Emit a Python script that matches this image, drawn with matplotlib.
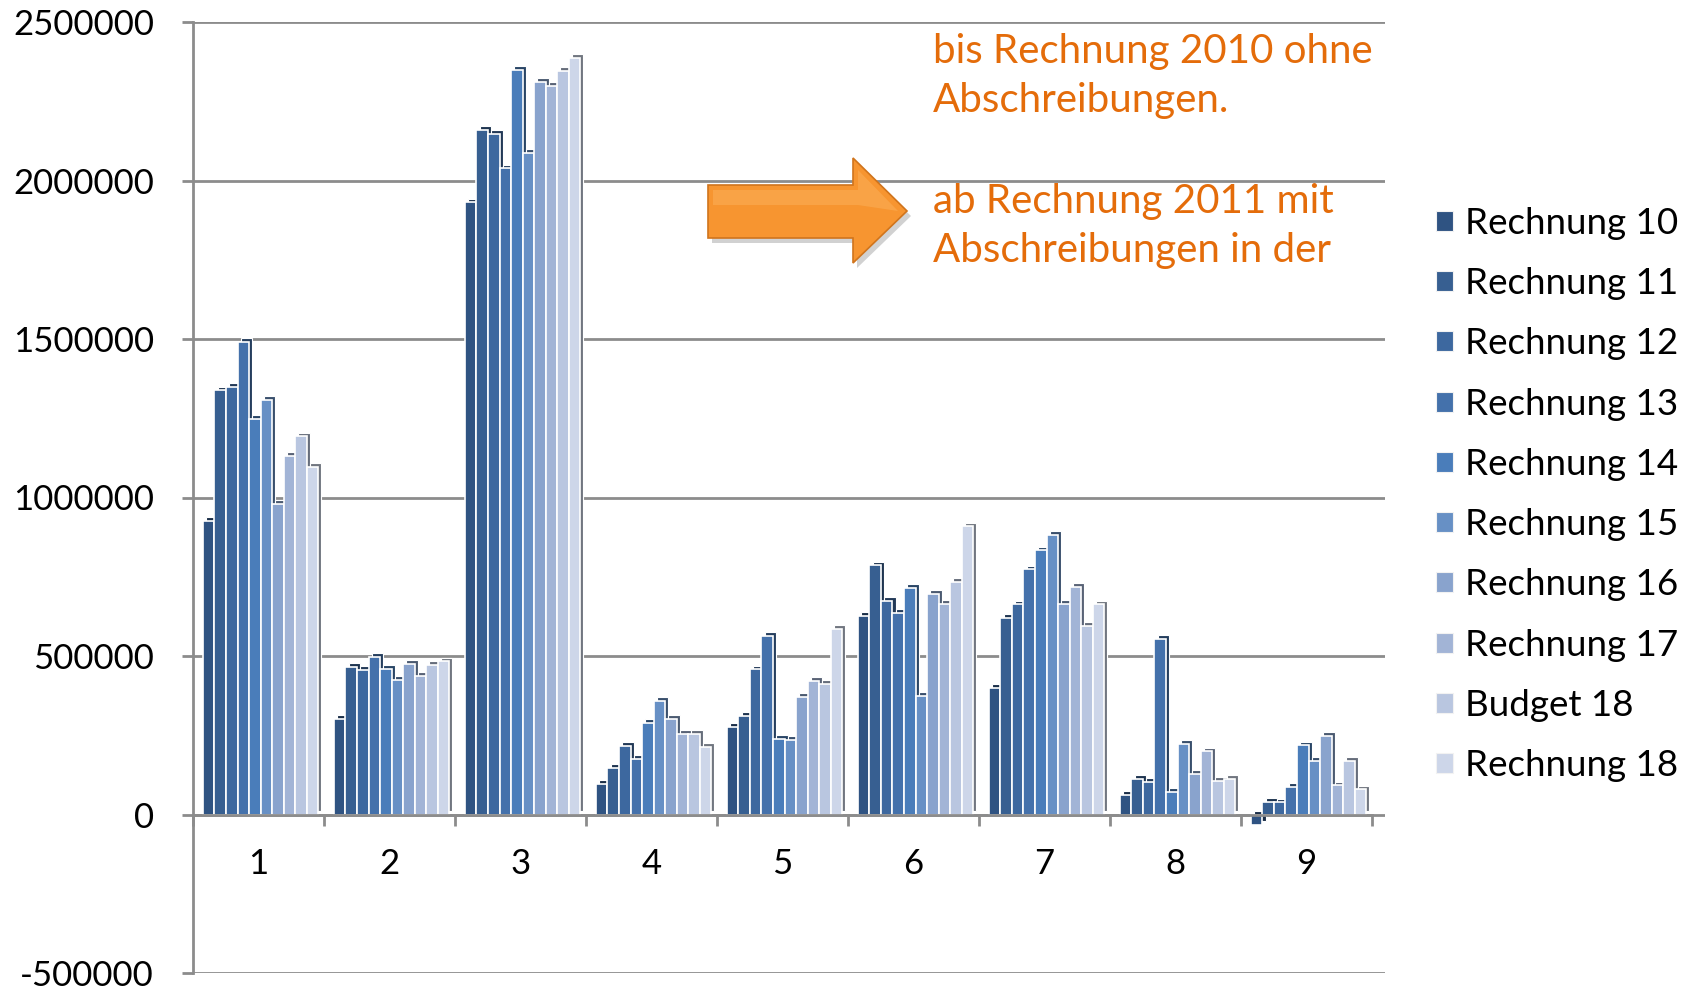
import numpy as np
import matplotlib
matplotlib.use("Agg")
import matplotlib.pyplot as plt
from matplotlib.patches import Patch, Polygon
from matplotlib.ticker import FixedLocator, NullFormatter

plt.rcParams['font.family'] = ['Lato', 'DejaVu Sans']

# categories 1..9
cats = ['1', '2', '3', '4', '5', '6', '7', '8', '9']

# values per series
r10 = [925000, 302000, 1931000, 96000, 277000, 626000, 399000, 61000, -34000]
r11 = [1338000, 466000, 2160000, 147000, 310000, 786000, 619000, 113000, 40000]
r12 = [1348000, 457000, 2147000, 217000, 458000, 673000, 663000, 103000, 38000]
r13 = [1490000, 498000, 2038000, 175000, 563000, 635000, 773000, 555000, 87000]
r14 = [1247000, 459000, 2350000, 290000, 239000, 714000, 833000, 71000, 218000]
r15 = [1308000, 425000, 2086000, 359000, 236000, 374000, 881000, 223000, 168000]
r16 = [979000, 475000, 2310000, 302000, 371000, 696000, 665000, 127000, 249000]
r17 = [1130000, 437000, 2299000, 254000, 422000, 665000, 718000, 199000, 92000]
b18 = [1193000, 472000, 2347000, 254000, 411000, 734000, 594000, 105000, 168000]
r18 = [1096000, 483000, 2387000, 214000, 585000, 909000, 663000, 113000, 79000]

series_names = ['Rechnung 10', 'Rechnung 11', 'Rechnung 12', 'Rechnung 13', 'Rechnung 14',
                'Rechnung 15', 'Rechnung 16', 'Rechnung 17', 'Budget 18', 'Rechnung 18']
series_vals = [r10, r11, r12, r13, r14, r15, r16, r17, b18, r18]
colors = ['#2F5382', '#375F91', '#3D689F', '#4471AB', '#4A7DBA',
          '#6790C5', '#89A3CD', '#A2B4D6', '#B9C6E0', '#CDD6E9']

yticks = [-500000, 0, 500000, 1000000, 1500000, 2000000, 2500000]

W, H = 1699, 992
fig = plt.figure(figsize=(W / 100, H / 100), dpi=100)
ax = fig.add_axes([193 / W, 1 - 973 / H, 1192 / W, 951 / H])

grey = '#8C8C8C'
x = np.arange(1, len(cats) + 1)
bw = 0.088
start = -0.5 + 0.076

for j, (vals, col) in enumerate(zip(series_vals, colors)):
    xs = x + start + (j + 0.5) * bw
    rgb = np.array(matplotlib.colors.to_rgb(col))
    dark = rgb * 0.55
    # depth face (pseudo 3D)
    ax.bar(xs + 0.024, vals, width=bw, bottom=12000, color=dark,
           edgecolor='white', linewidth=0.8, zorder=2)
    ax.bar(xs, vals, width=bw, color=col, edgecolor='white', linewidth=1.2,
           zorder=3, label=series_names[j])

ax.set_xlim(0.5, 9.6)
ax.set_ylim(-500000, 2500000)

for s in ['top', 'right']:
    ax.spines[s].set_visible(False)
ax.spines['left'].set_color(grey)
ax.spines['left'].set_linewidth(2)
ax.spines['bottom'].set_position(('data', 0))
ax.spines['bottom'].set_bounds(0.5, 9.5)
ax.spines['bottom'].set_color(grey)
ax.spines['bottom'].set_linewidth(2)
ax.spines['bottom'].set_zorder(4)

ax.set_yticks(yticks)
ax.set_yticklabels([str(v) for v in yticks])
for v in yticks:
    ax.axhline(v, color=grey, linewidth=2, zorder=1)

ax.xaxis.set_major_locator(FixedLocator(np.arange(0.5, 10.0, 1.0)))
ax.xaxis.set_major_formatter(NullFormatter())
ax.xaxis.set_minor_locator(FixedLocator(x))
ax.set_xticklabels(cats, minor=True)
ax.tick_params(axis='x', which='major', length=8, width=2, color=grey, direction='out')
ax.tick_params(axis='x', which='minor', length=0, pad=24, labelsize=25)
ax.tick_params(axis='y', length=8, width=2, color=grey, pad=20, labelsize=25)

leg = fig.legend(handles=[Patch(facecolor=c, edgecolor='#F2F2F2', linewidth=0.8) for c in colors],
                 labels=series_names, loc='upper left', bbox_to_anchor=(1436 / W, 1 - 207 / H),
                 frameon=False, fontsize=26.5, handlelength=0.46, handleheight=0.46,
                 handletextpad=0.32, labelspacing=0.74, borderpad=0, borderaxespad=0)

# overlay in pixel coords for arrow and notes
ov = fig.add_axes([0, 0, 1, 1], zorder=5)
ov.set_xlim(0, W)
ov.set_ylim(H, 0)
ov.axis('off')
ov.patch.set_alpha(0)

arrow = [(708, 185), (853, 185), (853, 158), (907, 211), (853, 263), (853, 238), (708, 238)]
shadow = [(px + 4, py + 5) for px, py in arrow]
ov.add_patch(Polygon(shadow, closed=True, facecolor='#9A9A9A', edgecolor='none', alpha=0.45))
ov.add_patch(Polygon(arrow, closed=True, facecolor='#F79530', edgecolor='#D0741C', linewidth=1.2))
ov.add_patch(Polygon([(713, 190), (858, 190), (858, 170), (898, 211), (858, 205), (713, 205)],
                     closed=True, facecolor='#FBAE55', edgecolor='none', alpha=0.6))

orange = '#E46C0A'
notes = ['bis Rechnung 2010 ohne', 'Abschreibungen.', 'ab Rechnung 2011 mit', 'Abschreibungen in der']
note_y = [63, 112, 213, 262]
for t, yy in zip(notes, note_y):
    ov.text(933, yy, t, color=orange, fontsize=29, va='baseline', ha='left')

fig.savefig('out.png', dpi=100)
